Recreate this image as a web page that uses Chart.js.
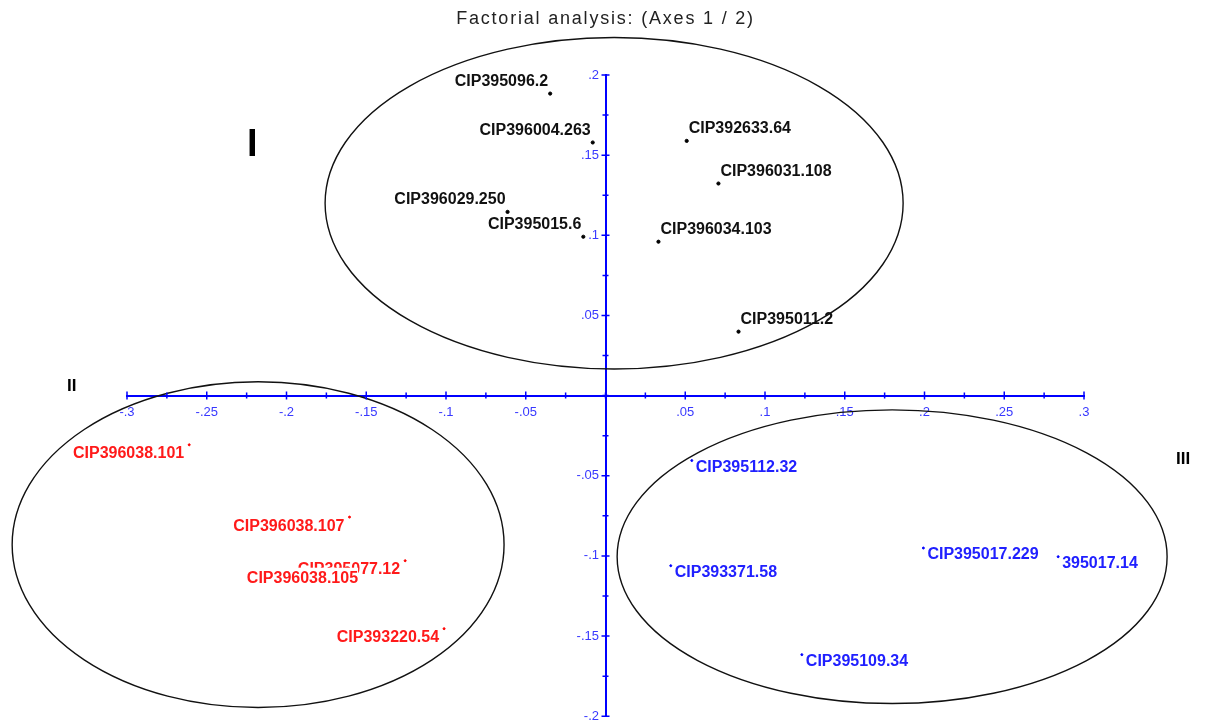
<!DOCTYPE html>
<html>
<head>
<meta charset="utf-8">
<script src="https://cdn.jsdelivr.net/npm/chart.js@4.4.1/dist/chart.umd.min.js"></script>
<style>
  html, body { margin: 0; padding: 0; background: #fff; }
</style>
</head>
<body>
<canvas id="factChart" width="1205" height="724"></canvas>
<script>
// title
const chartTitle = 'Factorial analysis: (Axes 1 / 2)';

// group I (black)
const namesI = ['CIP395096.2', 'CIP396004.263', 'CIP392633.64', 'CIP396031.108',
                'CIP396029.250', 'CIP395015.6', 'CIP396034.103', 'CIP395011.2'];
const xI = [-0.0347, -0.0080, 0.0509, 0.0708, -0.0614, -0.0139, 0.0332, 0.0834];
const yI = [0.1884, 0.1579, 0.1589, 0.1323, 0.1146, 0.0991, 0.0960, 0.0399];

// group II (red)
const namesII = ['CIP396038.101', 'CIP396038.107', 'CIP395077.12', 'CIP396038.105', 'CIP393220.54'];
const xII = [-0.2610, -0.1605, -0.1256, -0.1520, -0.1012];
const yII = [-0.0307, -0.0758, -0.1030, -0.1086, -0.1454];

// group III (blue)
const namesIII = ['CIP395112.32', 'CIP393371.58', 'CIP395017.229', '395017.14', 'CIP395109.34'];
const xIII = [0.0541, 0.0409, 0.1993, 0.2838, 0.1231];
const yIII = [-0.0405, -0.1061, -0.0951, -0.1005, -0.1616];

// group ellipses: centre x, centre y, radius x, radius y (data units)
const ellipseCx = [0.0054, -0.2178, 0.1797];
const ellipseCy = [0.1200, -0.0930, -0.1005];
const ellipseRx = [0.1812, 0.1542, 0.1724];
const ellipseRy = [0.1034, 0.1016, 0.0916];

// group numerals
const groupNames = ['I', 'II', 'III'];
const groupX = [-0.2215, -0.3347, 0.3621];
const groupY = [0.156, 0.006, -0.040];

// axis ticks
const xMin = -0.3, xMax = 0.3, yMin = -0.2, yMax = 0.2, tickStep = 0.025;

const axisBlue = '#0000ff';
const tickBlue = '#3838ff';

function toPoints(xs, ys) {
    return xs.map((x, i) => ({ x: x, y: ys[i] }));
}

function tickText(v, pad) {
    if (Math.abs(v) < 1e-9) return '';
    if (Math.abs(v * 20 - Math.round(v * 20)) > 1e-6) return '';
    let s = String(+v.toFixed(2)).replace('0.', '.');
    return pad ? s + '\u2002' : s;
}

const ellipsePlugin = {
    id: 'ellipses',
    afterDatasetsDraw(chart) {
        const ctx = chart.ctx, xs = chart.scales.x, ys = chart.scales.y;
        ctx.save();
        ctx.strokeStyle = '#111';
        ctx.lineWidth = 1.4;
        ellipseCx.forEach((cx, i) => {
            const px = xs.getPixelForValue(cx), py = ys.getPixelForValue(ellipseCy[i]);
            const rx = Math.abs(xs.getPixelForValue(cx + ellipseRx[i]) - px);
            const ry = Math.abs(ys.getPixelForValue(ellipseCy[i] + ellipseRy[i]) - py);
            ctx.beginPath();
            ctx.ellipse(px, py, rx, ry, 0, 0, Math.PI * 2);
            ctx.stroke();
        });
        // group numerals
        ctx.fillStyle = '#000';
        ctx.textAlign = 'center';
        ctx.textBaseline = 'middle';
        groupNames.forEach((g, i) => {
            ctx.font = (i === 0 ? 'bold 38px' : 'bold 17px') + ' "Liberation Sans", Arial, sans-serif';
            ctx.fillText(g, xs.getPixelForValue(groupX[i]), ys.getPixelForValue(groupY[i]));
        });
        ctx.restore();
    }
};

const pointLabelPlugin = {
    id: 'pointLabels',
    afterDatasetsDraw(chart) {
        const ctx = chart.ctx;
        ctx.save();
        ctx.font = 'bold 16px "Liberation Sans", Arial, sans-serif';
        ctx.textBaseline = 'middle';
        chart.data.datasets.forEach((ds, di) => {
            const meta = chart.getDatasetMeta(di);
            const st = ds.labelStyle;
            meta.data.forEach((pt, j) => {
                const txt = ds.names[j];
                let align = st.align;
                if (align === 'auto') align = ds.data[j].x < 0 ? 'right' : 'left';
                const tx = pt.x + (align === 'right' ? -st.dx : st.dx);
                const ty = pt.y + st.dy;
                const w = ctx.measureText(txt).width;
                if (st.background) {
                    ctx.fillStyle = '#fff';
                    ctx.fillRect(align === 'right' ? tx - w : tx, ty - 11, w, 20);
                }
                ctx.fillStyle = st.color;
                ctx.textAlign = align;
                ctx.fillText(txt, tx, ty);
            });
        });
        ctx.restore();
    }
};

const crossTickPlugin = {
    id: 'crossTicks',
    afterDraw(chart) {
        const ctx = chart.ctx, xs = chart.scales.x, ys = chart.scales.y;
        const x0 = xs.getPixelForValue(0), y0 = ys.getPixelForValue(0);
        ctx.save();
        ctx.strokeStyle = axisBlue;
        ctx.lineWidth = 1.5;
        ctx.beginPath();
        xs.ticks.forEach(t => {
            const p = xs.getPixelForValue(t.value);
            const len = tickText(t.value) !== '' ? 4 : 3;
            ctx.moveTo(p, y0 - len); ctx.lineTo(p, y0 + len);
        });
        ys.ticks.forEach(t => {
            const p = ys.getPixelForValue(t.value);
            const len = tickText(t.value) !== '' ? 4 : 3;
            ctx.moveTo(x0 - len, p); ctx.lineTo(x0 + len, p);
        });
        ctx.stroke();
        // title
        ctx.fillStyle = '#222';
        ctx.font = '18px "Liberation Sans", Arial, sans-serif';
        ctx.letterSpacing = '1.8px';
        ctx.textAlign = 'center';
        ctx.textBaseline = 'middle';
        ctx.fillText(chartTitle, (chart.chartArea.left + chart.chartArea.right) / 2, 19);
        ctx.restore();
    }
};

const ctx = document.getElementById('factChart').getContext('2d');
const factChart = new Chart(ctx, {
    type: 'scatter',
    data: {
        datasets: [{
            data: toPoints(xI, yI),
            names: namesI,
            backgroundColor: '#000',
            borderColor: '#000',
            pointRadius: 1.6,
            labelStyle: { align: 'auto', dx: 2, dy: -12, color: '#111', background: false }
        }, {
            data: toPoints(xII, yII),
            names: namesII,
            backgroundColor: '#ff0000',
            borderColor: '#ff0000',
            pointRadius: 1,
            labelStyle: { align: 'right', dx: 5, dy: 9, color: '#ff1a1a', background: true }
        }, {
            data: toPoints(xIII, yIII),
            names: namesIII,
            backgroundColor: '#0000ff',
            borderColor: '#0000ff',
            pointRadius: 1,
            labelStyle: { align: 'left', dx: 4, dy: 7, color: '#2020ff', background: false }
        }]
    },
    options: {
        responsive: false,
        animation: false,
        layout: { padding: { left: 127, right: 121, top: 75, bottom: 7 } },
        plugins: {
            legend: { display: false },
            tooltip: { enabled: false },
            title: { display: false }
        },
        scales: {
            x: {
                type: 'linear',
                min: xMin, max: xMax,
                position: { y: 0 },
                border: { color: axisBlue, width: 2 },
                grid: { drawOnChartArea: false, drawTicks: false },
                ticks: {
                    stepSize: tickStep, autoSkip: false, maxRotation: 0, padding: 9,
                    color: tickBlue,
                    font: { family: '"Liberation Sans", Arial, sans-serif', size: 13 },
                    callback: v => tickText(v, false)
                }
            },
            y: {
                type: 'linear',
                min: yMin, max: yMax,
                position: { x: 0 },
                border: { color: axisBlue, width: 2 },
                grid: { drawOnChartArea: false, drawTicks: false },
                ticks: {
                    stepSize: tickStep, autoSkip: false, padding: 0,
                    color: tickBlue,
                    font: { family: '"Liberation Sans", Arial, sans-serif', size: 13 },
                    callback: v => tickText(v, true)
                }
            }
        }
    },
    plugins: [ellipsePlugin, pointLabelPlugin, crossTickPlugin]
});
</script>
</body>
</html>
